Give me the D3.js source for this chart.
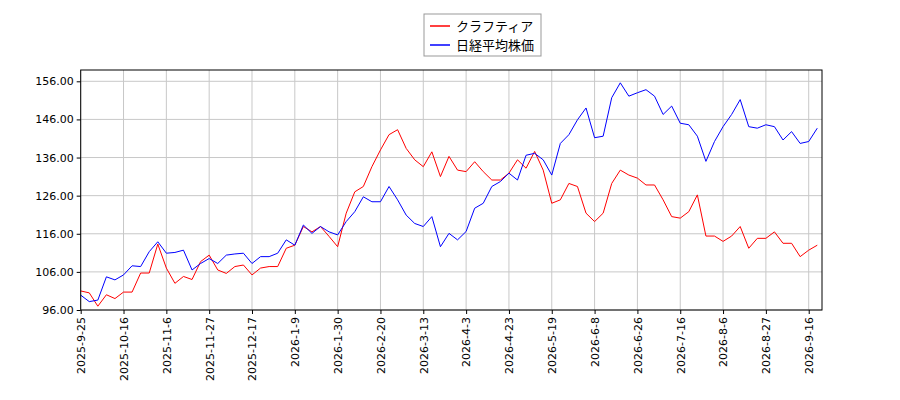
<!DOCTYPE html><html><head><meta charset="utf-8">
<script src="https://cdn.jsdelivr.net/npm/d3@7"></script>
<style>body{margin:0;background:#fff}svg{font-family:"DejaVu Sans",sans-serif}</style></head><body>
<svg id="c" width="900" height="400"></svg>
<script>
const seriesNames = ["クラフティア", "日経平均株価"];
const seriesColors = ["#ff0000", "#0000ff"];
const tickLabels = ["2025-9-25","2025-10-16","2025-11-6","2025-11-27","2025-12-17","2026-1-9","2026-1-30","2026-2-20","2026-3-13","2026-4-3","2026-4-23","2026-5-19","2026-6-8","2026-6-26","2026-7-16","2026-8-6","2026-8-27","2026-9-16"];
const yTicks = [96,106,116,126,136,146,156];
const kraftia = [101,100.5,97,100,99,100.7,100.7,105.7,105.7,113.3,107,103,104.8,104,108.7,110.4,106.5,105.6,107.4,107.8,105.2,107,107.4,107.4,112.2,113,117.9,116.5,117.9,115.3,112.6,121.4,127,128.4,133.6,138,142,143.3,138.4,135.4,133.6,137.5,131,136.3,132.7,132.3,134.9,132.3,130.1,130.1,131.9,135.4,133.2,137.6,132.7,124,124.9,129.2,128.4,121.4,119.2,121.4,129.2,132.7,131.4,130.6,128.8,128.8,124.9,120.5,120.1,121.8,126.2,115.4,115.4,114,115.4,117.9,112.2,114.8,114.8,116.5,113.5,113.5,110,111.7,113];
const nikkei = [99.9,98.2,98.6,104.7,103.9,105.2,107.6,107.4,111.3,113.9,110.9,111.1,111.7,106.5,108.2,109.5,108.2,110.4,110.7,110.9,108.2,110,110,110.9,114.4,113,118.3,116.1,117.9,116.5,115.7,119.2,121.8,125.7,124.4,124.4,128.4,124.9,120.9,118.7,117.9,120.5,112.6,116.1,114.4,116.6,122.7,124,128.4,129.7,131.9,130.1,136.6,137.1,135.4,131.4,139.7,142,145.9,149,141.2,141.6,151.7,155.6,152.1,153,153.8,152.1,147.3,149.5,145,144.6,141.6,135,140.2,144.1,147.3,151.2,144.1,143.7,144.6,144.1,140.6,142.8,139.7,140.2,143.7];
const tickStep = 5;

const svg = d3.select("#c");
const L=80.7, R=822, T=70, B=310;
const x = d3.scaleLinear().domain([0,86.4]).range([L,820.7]);
const y = d3.scaleLinear().domain([96,156]).range([B,81.3]);
const xt = tickLabels.map((d,i)=>i*tickStep);
// grid
svg.append("g").selectAll("line").data(xt).join("line").attr("x1",d=>x(d)).attr("x2",d=>x(d)).attr("y1",T).attr("y2",B).attr("stroke","#c8c8c8");
svg.append("g").selectAll("line").data(yTicks).join("line").attr("x1",L).attr("x2",R).attr("y1",d=>y(d)).attr("y2",d=>y(d)).attr("stroke","#c8c8c8");
// lines
[kraftia,nikkei].forEach((s,k)=>{
  svg.append("path").datum(s).attr("fill","none").attr("stroke",seriesColors[k]).attr("stroke-width",1)
    .attr("d",d3.line().x((d,i)=>x(i)).y(d=>y(d)));
});
// frame
svg.append("rect").attr("x",L).attr("y",T).attr("width",R-L).attr("height",B-T).attr("fill","none").attr("stroke","#000");
// axes
const ya = svg.append("g").attr("transform",`translate(${L},0)`).call(d3.axisLeft(y).tickValues(yTicks).tickSize(4).tickFormat(d3.format(".2f")));
ya.select(".domain").remove();
ya.selectAll("text").attr("font-size",11).attr("fill","#000").attr("font-family","DejaVu Sans");
const xa = svg.append("g").attr("transform",`translate(0,${B})`).call(d3.axisBottom(x).tickValues(xt).tickSize(4).tickFormat((d,i)=>tickLabels[i]));
xa.select(".domain").remove();
xa.selectAll("text").attr("font-size",11).attr("fill","#000").attr("font-family","DejaVu Sans")
  .attr("transform","rotate(-90)").attr("text-anchor","end").attr("x",-7).attr("y",0).attr("dy","0.35em");
// legend
const lg = svg.append("g");
lg.append("rect").attr("x",424).attr("y",14).attr("width",117).attr("height",42).attr("fill","#fff").attr("stroke","#999");
seriesNames.forEach((n,i)=>{
  const yy = 26+i*19;
  lg.append("line").attr("x1",430).attr("x2",450).attr("y1",yy).attr("y2",yy).attr("stroke",seriesColors[i]).attr("stroke-width",1.5);
  lg.append("text").attr("x",456).attr("y",yy).attr("dy","0.35em").attr("font-size",13).attr("font-family","Noto Sans CJK JP").text(n);
});
</script></body></html>
